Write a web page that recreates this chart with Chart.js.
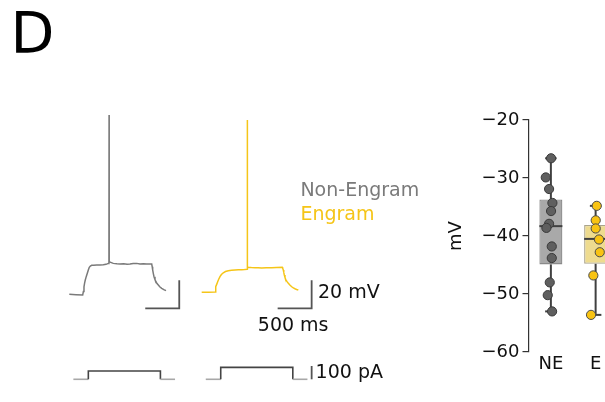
<!DOCTYPE html>
<html>
<head>
<meta charset="utf-8">
<script src="https://cdn.jsdelivr.net/npm/chart.js@4.4.1/dist/chart.umd.min.js"></script>
<style>
  html, body { margin: 0; padding: 0; background: #fff; overflow: hidden; width: 605px; height: 402px; }
  #traces { position: absolute; left: 0; top: 0; }
  #box { position: absolute; left: 430px; top: 0; }
</style>
</head>
<body>
<canvas id="traces" width="605" height="402"></canvas>
<canvas id="box" width="188" height="402"></canvas>
<script>
// ---- Example sweeps at rheobase (time from sweep start, membrane potential) ----
const nonEngramTimeMs = [0, 100, 197, 207, 216, 225, 235, 250, 265, 280, 294, 310, 329, 360, 403, 450, 500, 540, 574, 583,
  585, 587, 600, 647, 700, 746, 800, 850, 893, 940, 991, 1040, 1090, 1138, 1180, 1212, 1219, 1226, 1236, 1246,
  1260, 1275, 1290, 1309, 1330, 1359, 1390, 1422];
const nonEngramMv = [-70, -70.3, -70.5, -68, -64.6, -62, -59.8, -57.2, -55, -52.7, -50.7, -49.8, -49.3, -49.2, -49.1, -49.0, -48.9, -48.6, -47.9, -47.6,
  58.1, -46.5, -47.0, -47.9, -48.2, -48.4, -48.1, -48.6, -48.4, -48.0, -47.9, -48.4, -48.2, -48.4, -48.3, -48.4, -50.3, -52.6, -55.2, -57.4,
  -59.4, -61, -62.3, -63.4, -64.6, -65.7, -66.6, -67.4];

const engramTimeMs = [0, 100, 196, 203, 210, 222, 235, 250, 269, 290, 318, 350, 391, 440, 490, 540, 588, 630, 669, 670,
  672, 674, 685, 730, 784, 830, 882, 950, 1029, 1100, 1185, 1192, 1200, 1207, 1215, 1225, 1235, 1252, 1274, 1300,
  1324, 1348, 1372, 1396, 1421];
const engramMv = [-68.6, -68.5, -68.4, -66.5, -64.6, -62.7, -61, -59.2, -57.4, -55.9, -54.6, -53.7, -53.1, -52.8, -52.6, -52.5, -52.4, -52.3, -52.1, -52.0,
  54.5, -50.5, -50.7, -50.9, -51.0, -51.1, -51.2, -51.1, -51.0, -50.9, -50.7, -51.5, -52.6, -54.3, -56.2, -57.9, -59.3, -60.8, -62.1, -63.5,
  -64.6, -65.4, -66.0, -66.5, -66.9];

// Injected current steps
const stepTimeMs = [60, 280, 280, 1340, 1340, 1555];
const nonEngramStepPa = [0, 0, 62, 62, 0, 0];
const engramStepPa = [0, 0, 90, 90, 0, 0];

// Scale bar sizes
const scaleBarMs = 500;
const scaleBarMv = 20;
const scaleBarPa = 100;

// ---- Threshold summary per group ----
const groups = ['NE', 'E'];
const neThresholdMv = [-26.6, -29.9, -31.9, -34.3, -35.7, -37.9, -38.6, -41.8, -43.8, -48.0, -50.2, -53.0];
const eThresholdMv = [-34.8, -37.3, -38.7, -40.6, -42.8, -46.8, -53.6];
// strip-plot jitter (category units)
const neJitter = [0.004, -0.114, -0.04, 0.034, 0.004, -0.04, -0.10, 0.02, 0.02, -0.025, -0.07, 0.027];
const eJitter = [0.025, 0.002, 0.002, 0.076, 0.092, -0.051, -0.103];
const boxQ1 = [-44.9, -44.8];
const boxMedian = [-38.3, -40.5];
const boxQ3 = [-33.7, -38.1];
const whiskerLow = [-53.0, -53.6];
const whiskerHigh = [-26.6, -34.8];

// ---- layout / style ----
const FONT = 'DejaVu Sans';
const GREY = '#7a7a7a';
const GOLD = '#f5c518';
const sweepStartMs = [0, 1947];
const barCornerMs = 1617;     // scale bar corner, relative to sweep start
const barBaseMv = -80;

const zip = (xs, ys, dx = 0) => xs.map((t, i) => ({ x: t + dx, y: ys[i] }));

function lBar(start) {
  const c = start + barCornerMs;
  return [{ x: c - scaleBarMs, y: barBaseMv }, { x: c, y: barBaseMv }, { x: c, y: barBaseMv + scaleBarMv }];
}

const stepSegColor = ctx => (ctx.p0.parsed.y === 0 && ctx.p1.parsed.y === 0) ? '#a8a8a8' : '#444';

const labelPlugin = {
  id: 'labels',
  afterDraw(chart) {
    const ctx = chart.ctx;
    ctx.save();
    ctx.textBaseline = 'alphabetic';
    ctx.textAlign = 'left';
    ctx.fillStyle = '#000';
    ctx.font = `57px "${FONT}"`;
    ctx.fillText('D', 10.4, 53.3);
    ctx.font = `19px "${FONT}"`;
    ctx.fillStyle = GREY;
    ctx.fillText('Non-Engram', 300.4, 196);
    ctx.fillStyle = GOLD;
    ctx.fillText('Engram', 300.4, 220);
    ctx.fillStyle = '#111';
    ctx.fillText(`${scaleBarMv} mV`, 318, 298.3);
    ctx.fillText(`${scaleBarMs} ms`, 257.8, 330.7);
    ctx.fillText(`${scaleBarPa} pA`, 315.6, 378.3);
    ctx.restore();
  }
};

new Chart(document.getElementById('traces'), {
  type: 'scatter',
  data: {
    datasets: [
      { data: zip(nonEngramTimeMs, nonEngramMv, sweepStartMs[0]), yAxisID: 'v', borderColor: GREY, borderWidth: 1.5 },
      { data: zip(engramTimeMs, engramMv, sweepStartMs[1]), yAxisID: 'v', borderColor: GOLD, borderWidth: 1.5 },
      { data: lBar(sweepStartMs[0]), yAxisID: 'v', borderColor: '#555', borderWidth: 1.8 },
      { data: lBar(sweepStartMs[1]), yAxisID: 'v', borderColor: '#555', borderWidth: 1.8 },
      { data: zip(stepTimeMs, nonEngramStepPa, sweepStartMs[0]), yAxisID: 'i', borderColor: '#444', borderWidth: 1.6,
        segment: { borderColor: stepSegColor } },
      { data: zip(stepTimeMs, engramStepPa, sweepStartMs[1]), yAxisID: 'i', borderColor: '#444', borderWidth: 1.6,
        segment: { borderColor: stepSegColor } },
      { data: [{ x: sweepStartMs[1] + barCornerMs, y: 0 }, { x: sweepStartMs[1] + barCornerMs, y: scaleBarPa }],
        yAxisID: 'i', borderColor: '#555', borderWidth: 1.8 }
    ].map(d => Object.assign({ showLine: true, pointRadius: 0, tension: 0, fill: false, clip: false }, d))
  },
  options: {
    responsive: false,
    animation: false,
    devicePixelRatio: 1,
    layout: { padding: 0, autoPadding: false },
    plugins: { legend: { display: false }, tooltip: { enabled: false } },
    scales: {
      x: { type: 'linear', display: false, min: -1019, max: 7878 },
      v: { type: 'linear', display: false, min: -146.9, max: 140.2 },
      i: { type: 'linear', display: false, min: -170.7, max: 2852 }
    }
  },
  plugins: [labelPlugin]
});

// ---- box plot ----
const BOX_WIDTH = 0.514;
const boxWhiskers = {
  id: 'boxWhiskers',
  afterDatasetDraw(chart, args) {
    if (chart.data.datasets[args.index].type !== 'bar') return;
    const { ctx, scales: { x, y } } = chart;
    const half = x.getPixelForValue(BOX_WIDTH / 2) - x.getPixelForValue(0);
    const cap = half * 0.5;
    const seg = (x0, y0, x1, y1) => { ctx.beginPath(); ctx.moveTo(x0, y0); ctx.lineTo(x1, y1); ctx.stroke(); };
    ctx.save();
    ctx.strokeStyle = '#404040';
    ctx.lineWidth = 2;
    groups.forEach((g, i) => {
      const cx = x.getPixelForValue(i);
      seg(cx, y.getPixelForValue(whiskerHigh[i]), cx, y.getPixelForValue(boxQ3[i]));
      seg(cx, y.getPixelForValue(boxQ1[i]), cx, y.getPixelForValue(whiskerLow[i]));
      seg(cx - cap, y.getPixelForValue(whiskerHigh[i]), cx + cap, y.getPixelForValue(whiskerHigh[i]));
      seg(cx - cap, y.getPixelForValue(whiskerLow[i]), cx + cap, y.getPixelForValue(whiskerLow[i]));
      seg(cx - half, y.getPixelForValue(boxMedian[i]), cx + half, y.getPixelForValue(boxMedian[i]));
    });
    ctx.restore();
  }
};

const tickFont = { family: FONT, size: 18 };
new Chart(document.getElementById('box'), {
  type: 'bar',
  data: {
    datasets: [
      { type: 'scatter', data: neThresholdMv.map((v, k) => ({ x: 0 + neJitter[k], y: v })),
        backgroundColor: '#5f5f5f', borderColor: '#3a3a3a', borderWidth: 1, pointRadius: 4.6, order: 0, clip: false },
      { type: 'scatter', data: eThresholdMv.map((v, k) => ({ x: 1 + eJitter[k], y: v })),
        backgroundColor: '#f8c313', borderColor: '#4a4a4a', borderWidth: 1, pointRadius: 4.6, order: 0, clip: false },
      { type: 'bar', data: groups.map((g, i) => ({ x: i, y: [boxQ1[i], boxQ3[i]] })),
        backgroundColor: ['#a9a9a9', '#eedb8f'], borderColor: ['#8a8a8a', '#aaa48c'], borderWidth: 1.3,
        borderSkipped: false, barPercentage: BOX_WIDTH, categoryPercentage: 1, order: 1 }
    ]
  },
  options: {
    responsive: false,
    animation: false,
    devicePixelRatio: 1,
    layout: { padding: { top: 120, left: 0, right: 0, bottom: 0 }, autoPadding: false },
    plugins: { legend: { display: false }, tooltip: { enabled: false } },
    scales: {
      x: {
        type: 'linear', min: -0.5, max: 1.5, offset: false,
        afterBuildTicks: s => { s.ticks = groups.map((g, i) => ({ value: i })); },
        afterFit: s => { s.height = 50; },
        ticks: { callback: v => groups[v], font: tickFont, color: '#111', padding: 2, maxRotation: 0, autoSkip: false },
        grid: { display: false, drawTicks: false },
        border: { display: false }
      },
      y: {
        min: -60, max: -20,
        afterFit: s => { s.width = 98.5; },
        ticks: { stepSize: 10, font: tickFont, color: '#111', padding: 3,
          callback: v => (v < 0 ? '\u2212' : '') + Math.abs(v) },
        grid: { drawOnChartArea: false, drawTicks: true, tickLength: 6, color: '#333', lineWidth: 1.2 },
        border: { display: true, color: '#333', width: 1.2 },
        title: { display: true, text: 'mV', font: tickFont, color: '#111', padding: { top: 16, bottom: 0 } }
      }
    }
  },
  plugins: [boxWhiskers]
});
</script>
</body>
</html>
